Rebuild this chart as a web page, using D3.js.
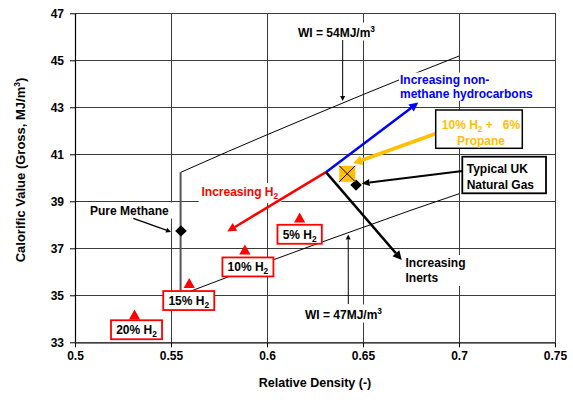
<!DOCTYPE html>
<html>
<head>
<meta charset="utf-8">
<script src="https://cdn.jsdelivr.net/npm/d3@7"></script>
<style>
  body { margin: 0; background: #fff; }
  svg text { font-family: "Liberation Sans", Arial, sans-serif; font-weight: bold; white-space: pre; }
</style>
</head>
<body>
<svg id="chart" width="573" height="400"></svg>
<script>
// Wobbe index reference curves: relative density vs gross calorific value
const wi54RD = [0.555, 0.58, 0.6, 0.625, 0.65, 0.675, 0.7];
const wi54CV = [40.23, 41.13, 41.83, 42.69, 43.54, 44.37, 45.18];
const wi47RD = [0.56, 0.58, 0.6, 0.625, 0.65, 0.675, 0.7];
const wi47CV = [35.17, 35.79, 36.41, 37.16, 37.89, 38.62, 39.32];

// vertical drop line through pure methane
const methaneLineRD = [0.555, 0.555];
const methaneLineCV = [40.23, 35.0];

// hydrogen blends
const blendLabels = ["5%", "10%", "15%", "20%"];
const blendRD = [0.617, 0.5885, 0.5595, 0.531];
const blendCV = [38.29, 36.93, 35.50, 34.16];

// reference gases
const gasNames = ["Pure Methane", "Typical UK Natural Gas", "10% H2 + 6% Propane"];
const gasRD = [0.5552, 0.6464, 0.6418];
const gasCV = [37.74, 39.69, 40.17];

// composition trend arrows, all starting from one point
const trendOriginRD = 0.6307;
const trendOriginCV = 40.24;
const trendNames = ["Increasing H2", "Increasing non-methane hydrocarbons", "Increasing Inerts"];
const trendRD = [0.5793, 0.6788, 0.6702];
const trendCV = [37.71, 43.20, 36.50];

// axes
const xTicks = [0.5, 0.55, 0.6, 0.65, 0.7, 0.75];
const xTickLabels = ["0.5", "0.55", "0.6", "0.65", "0.7", "0.75"];
const yTicks = [33, 35, 37, 39, 41, 43, 45, 47];
const yTickLabels = ["33", "35", "37", "39", "41", "43", "45", "47"];

const svg = d3.select("#chart");
const x = d3.scaleLinear().domain([0.5, 0.75]).range([75, 555]);
const y = d3.scaleLinear().domain([33, 47]).range([342.3, 13.3]);

const RED = "#ff0000", BLUE = "#0000ff", GOLD = "#ffc000", INK = "#000";

// ---------- gridlines ----------
const grid = svg.append("g").attr("shape-rendering", "crispEdges");
grid.selectAll("line.v").data(xTicks.slice(1)).join("line")
  .attr("x1", d => x(d)).attr("x2", d => x(d))
  .attr("y1", y(33)).attr("y2", y(47))
  .attr("stroke", "#3a3a3a").attr("stroke-width", 1);
grid.selectAll("line.h").data(yTicks.slice(1)).join("line")
  .attr("x1", x(0.5)).attr("x2", x(0.75))
  .attr("y1", d => y(d)).attr("y2", d => y(d))
  .attr("stroke", "#3a3a3a").attr("stroke-width", 1);

// ---------- axes ----------
const xAxis = d3.axisBottom(x).tickValues(xTicks)
  .tickFormat((d, i) => xTickLabels[i]).tickSizeInner(5).tickSizeOuter(0).tickPadding(4);
const yAxis = d3.axisLeft(y).tickValues(yTicks)
  .tickFormat((d, i) => yTickLabels[i]).tickSizeInner(5).tickSizeOuter(0).tickPadding(6);

const gx = svg.append("g").attr("transform", `translate(0,${y(33)})`).call(xAxis);
const gy = svg.append("g").attr("transform", `translate(${x(0.5)},0)`).call(yAxis);
[gx, gy].forEach(g => {
  g.selectAll("path").attr("stroke", INK).attr("stroke-width", 1.2);
  g.selectAll("line").attr("stroke", INK);
  g.selectAll("text").attr("fill", INK).style("font-size", "12px")
    .style("font-family", "'Liberation Sans', Arial, sans-serif").style("font-weight", "bold");
});

svg.append("text")
  .attr("x", 315).attr("y", 387)
  .attr("text-anchor", "middle").style("font-size", "12.5px")
  .text("Relative Density (-)");

const yTitle = svg.append("text")
  .attr("transform", "translate(25,170) rotate(-90)")
  .attr("text-anchor", "middle").style("font-size", "13px");
yTitle.append("tspan").text("Calorific Value (Gross, MJ/m");
yTitle.append("tspan").attr("dy", -5).style("font-size", "8.5px").text("3");
yTitle.append("tspan").attr("dy", 5).text(")");

// ---------- helpers ----------
const line = d3.line().x(d => x(d[0])).y(d => y(d[1]));
const zip = (a, b) => a.map((v, i) => [v, b[i]]);

function arrow(g, x1, y1, x2, y2, color, width, headLen, headHalf) {
  const ang = Math.atan2(y2 - y1, x2 - x1);
  const bx = x2 - headLen * Math.cos(ang), by = y2 - headLen * Math.sin(ang);
  g.append("line").attr("x1", x1).attr("y1", y1).attr("x2", bx).attr("y2", by)
    .attr("stroke", color).attr("stroke-width", width);
  const px = -Math.sin(ang) * headHalf, py = Math.cos(ang) * headHalf;
  g.append("path")
    .attr("d", `M${x2},${y2}L${bx + px},${by + py}L${bx - px},${by - py}Z`)
    .attr("fill", color);
}

// rich text: lines of segments {t, sub, sup}
function rich(g, lines, opt) {
  const t = g.append("text").attr("x", opt.x).attr("y", opt.y)
    .attr("text-anchor", opt.anchor || "start")
    .style("font-size", opt.size + "px").attr("fill", opt.color || INK);
  let cur = 0;
  lines.forEach((segs, i) => {
    segs.forEach((s, j) => {
      const target = s.sub ? 3 : s.sup ? -5 : 0;
      const ts = t.append("tspan").text(s.t);
      let dy = target - cur;
      if (j === 0) { ts.attr("x", opt.x); if (i > 0) dy += opt.lineH; }
      ts.attr("dy", dy);
      if (s.sub || s.sup) ts.style("font-size", (opt.size * 0.7) + "px");
      cur = target;
    });
  });
  return t;
}

function backing(g, textSel, pad) {
  const b = textSel.node().getBBox();
  g.insert("rect", () => textSel.node())
    .attr("x", b.x - pad[0]).attr("y", b.y - pad[1])
    .attr("width", b.width + 2 * pad[0]).attr("height", b.height + 2 * pad[1])
    .attr("fill", "#fff");
}

// ---------- Wobbe index curves ----------
const curves = svg.append("g").attr("fill", "none");
curves.append("path").attr("d", line(zip(methaneLineRD, methaneLineCV)))
  .attr("stroke", "#555").attr("stroke-width", 2);
curves.append("path").attr("d", line(zip(wi54RD, wi54CV)))
  .attr("stroke", INK).attr("stroke-width", 1);
curves.append("path").attr("d", line(zip(wi47RD, wi47CV)))
  .attr("stroke", INK).attr("stroke-width", 1);

// ---------- annotation labels with white backing ----------
const notes = svg.append("g");

const wi54Label = rich(notes, [[{ t: "WI = 54MJ/m" }, { t: "3", sup: true }]],
  { x: 298, y: 36.5, size: 12 });
backing(notes, wi54Label, [2, 1]);
const wi47Label = rich(notes, [[{ t: "WI = 47MJ/m" }, { t: "3", sup: true }]],
  { x: 305, y: 318.5, size: 12 });
backing(notes, wi47Label, [2, 1]);

const methLabel = rich(notes, [[{ t: gasNames[0] }]], { x: 90, y: 214.5, size: 12 });
backing(notes, methLabel, [4, 1]);

const h2Label = rich(notes, [[{ t: "Increasing H" }, { t: "2", sub: true }]],
  { x: 201.5, y: 196, size: 12, color: RED });
backing(notes, h2Label, [3, 2]);

const nmhcLabel = rich(notes, [[{ t: "Increasing non-" }], [{ t: "methane hydrocarbons" }]],
  { x: 400, y: 83.5, size: 12, color: BLUE, lineH: 14.3 });
backing(notes, nmhcLabel, [1, 0]);

const inertLabel = rich(notes, [[{ t: "Increasing" }], [{ t: "Inerts" }]],
  { x: 405.5, y: 267, size: 12, lineH: 15 });
backing(notes, inertLabel, [2, 1]);

// ---------- arrows ----------
const arrows = svg.append("g");
const ox = x(trendOriginRD), oy = y(trendOriginCV);
const trendColor = [RED, BLUE, INK];
trendRD.forEach((rd, i) => {
  arrow(arrows, ox, oy, x(rd), y(trendCV[i]), trendColor[i], 2.5, 9, 4.5);
});

// Wobbe index pointers
arrow(arrows, 342.7, 40, x(0.6394), y(54 * Math.sqrt(0.6394)) - 2, INK, 1, 5, 2.5);
arrow(arrows, 348.3, 304, x(0.6423), y(47 * Math.sqrt(0.6423)) + 2, INK, 1, 5, 2.5);

// pointers to gases
arrow(arrows, 133.3, 218.3, x(gasRD[0]) - 10, y(gasCV[0]) + 1, INK, 1.3, 5, 2.5);
arrow(arrows, 462.5, 171, x(gasRD[1]) + 5.5, y(gasCV[1]) - 1.5, INK, 2, 8, 3.5);
arrow(arrows, 436, 133.5, x(gasRD[2]) + 6, y(gasCV[2]) - 10.5, GOLD, 3.5, 9, 5);

// ---------- markers ----------
const marks = svg.append("g");
const diamond = "M0,-5.6L5.8,0L0,5.6L-5.8,0Z";
[0, 1].forEach(i => {
  marks.append("path").attr("d", diamond)
    .attr("transform", `translate(${x(gasRD[i])},${y(gasCV[i])})`)
    .attr("fill", INK);
});
const sq = marks.append("g")
  .attr("transform", `translate(${x(gasRD[2])},${y(gasCV[2])})`);
sq.append("rect").attr("x", -8).attr("y", -8).attr("width", 16).attr("height", 16)
  .attr("fill", GOLD);
sq.append("path").attr("d", "M-8,-8L8,8M8,-8L-8,8").attr("stroke", INK).attr("stroke-width", 1);

const tri = "M0,-5.5L5.6,4.5L-5.6,4.5Z";
marks.selectAll("path.tri").data(blendRD).join("path")
  .attr("d", tri)
  .attr("transform", (d, i) => `translate(${x(d)},${y(blendCV[i])})`)
  .attr("fill", RED);

// ---------- boxed labels ----------
const boxes = svg.append("g");
const blendOffset = [[0, 16.3], [3, 17], [-0.5, 17], [2, 14.7]];
blendRD.forEach((rd, i) => {
  const cx = x(rd) + blendOffset[i][0];
  const cy = y(blendCV[i]) + blendOffset[i][1];
  const t = rich(boxes, [[{ t: blendLabels[i] + " H" }, { t: "2", sub: true }]],
    { x: cx, y: cy + 4.5, size: 12, anchor: "middle" });
  const b = t.node().getBBox();
  const w = b.width + 10, h = 19;
  boxes.insert("rect", () => t.node())
    .attr("x", cx - w / 2).attr("y", cy - h / 2).attr("width", w).attr("height", h)
    .attr("fill", "#fff").attr("stroke", RED).attr("stroke-width", 1.8);
});

// 10% H2 + 6% Propane
boxes.append("rect").attr("x", 435.7).attr("y", 110).attr("width", 86.6).attr("height", 38.3)
  .attr("fill", "#fff").attr("stroke", INK).attr("stroke-width", 1.5);
rich(boxes, [[{ t: "10% H" }, { t: "2", sub: true }, { t: " +   6%" }], [{ t: "Propane" }]],
  { x: 481, y: 128.5, size: 12, anchor: "middle", color: GOLD, lineH: 16.5 });

// Typical UK Natural Gas
boxes.append("rect").attr("x", 462.3).attr("y", 156.7).attr("width", 83.7).attr("height", 36.6)
  .attr("fill", "#fff").attr("stroke", INK).attr("stroke-width", 1.8);
rich(boxes, [[{ t: "Typical UK" }], [{ t: "Natural Gas" }]],
  { x: 466.7, y: 173, size: 12, lineH: 16 });
</script>
</body>
</html>
